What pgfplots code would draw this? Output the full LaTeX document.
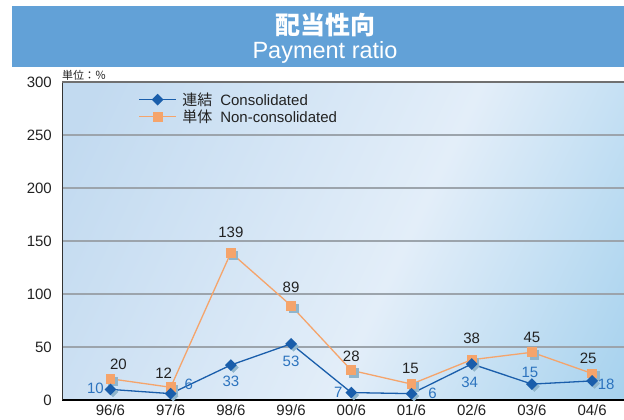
\documentclass[border=0pt]{standalone}
\usepackage{fontspec}
\setmainfont{Liberation Sans}
\newfontfamily\jp{Noto Sans CJK JP}
\usepackage{pgfplots}
\usepackage{pgfplotstable}
\pgfplotsset{compat=1.18}
\definecolor{hdr}{HTML}{62A1D7}
\definecolor{consc}{HTML}{1A5EAB}
\definecolor{consl}{HTML}{2C73BE}
\definecolor{nonc}{HTML}{F5A46B}
\definecolor{shadowc}{HTML}{8FB5CC}
\definecolor{bgL}{HTML}{C2DAF0}
\definecolor{bgM}{HTML}{E3EEF9}
\definecolor{bgR}{HTML}{A7D2EE}
\definecolor{gridc}{HTML}{9CA4AC}
\definecolor{topc}{HTML}{707070}
\definecolor{txt}{HTML}{222222}
\pgfdeclareverticalshading{plotbg}{100bp}{color(0bp)=(bgL); color(20bp)=(bgL); color(56bp)=(bgM); color(83bp)=(bgR); color(100bp)=(bgR)}

\pgfplotstableread{
x y dx dy
0 10 -15 1
1 6 18 9
2 33 0 -16
3 53 0 -18
4 7 -13 0
5 6 21 0
6 34 -2 -18
7 15 -2 12
8 18 14 -3
}\cons

\pgfplotstableread{
x y dx dy
0 20 8 14
1 12 -7 14
2 139 0 20
3 89 0 18
4 28 0 14
5 15 -1 16
6 38 0 21
7 45 0 15
8 25 -4 15
}\noncons

\begin{document}
\begin{tikzpicture}[x=1pt,y=1pt]
\useasboundingbox (0,0) rectangle (624,420);
\fill[hdr] (12,353.3) rectangle (624,414);
\node[white, inner sep=0, font=\jp\bfseries\fontsize{25}{28}\selectfont] at (325,395) {配当性向};
\node[white, anchor=base, inner sep=0, font=\fontsize{23.5}{26}\selectfont] at (325,361) {Payment ratio};
\node[anchor=west, inner sep=0, text=txt, font=\jp\fontsize{11}{13}\selectfont] at (62,344.5) {単位：％};

\begin{axis}[
  at={(62.5pt,20pt)}, anchor=south west, scale only axis,
  width=561.5pt, height=318pt,
  xmin=-0.797, xmax=8.53, ymin=0, ymax=300,
  axis x line=bottom, axis y line=left,
  axis line style={-},
  x axis line style={black, line width=1.3pt},
  y axis line style={black!80, line width=1pt},
  xtick={0,...,8},
  xticklabels={96/6,97/6,98/6,99/6,00/6,01/6,02/6,03/6,04/6},
  ytick={0,50,100,150,200,250,300},
  major tick length=0pt,
  ymajorgrids, grid style={gridc, line width=1.5pt},
  /pgf/number format/assume math mode=true,
  tick label style={text=txt, font=\fontsize{15}{17}\selectfont},
  xticklabel style={anchor=base, yshift=-16pt, inner sep=0pt},
  yticklabel style={anchor=east, xshift=-10.5pt, inner sep=0pt},
  axis background/.style={shade, shading=plotbg, shading angle=244.5},
  after end axis/.code={\draw[topc, line width=2pt] (rel axis cs:0,1) -- (rel axis cs:1,1);},
  legend style={at={(axis description cs:0.135,0.972)}, anchor=north west, draw=none, fill=none,
    font=\fontsize{15}{17}\selectfont, text=txt, row sep=0pt, inner sep=0pt,
    nodes={inner sep=1.5pt}},
  legend cell align=left,
  reverse legend,
  legend image code/.code={\draw[mark repeat=2,mark phase=2,#1] plot coordinates {(0pt,0pt) (18.5pt,0pt) (37pt,0pt)};},
  clip=false,
]
% shadows
\addplot[forget plot, only marks, mark=square*, mark size=4.3pt, shadowc, mark options={xshift=2.5pt, yshift=-2.5pt}] table[x=x,y=y] {\noncons};
\addplot[forget plot, only marks, mark=square*, mark size=3.5pt, shadowc, mark options={xshift=2.5pt, yshift=-2.5pt, rotate=45}] table[x=x,y=y] {\cons};
% non-consolidated
\addplot[nonc, line width=1.3pt, mark=square*, mark size=4.3pt, mark options={solid, fill=nonc, draw=nonc},
  nodes near coords,
  visualization depends on={\thisrow{dx} \as \ddx},
  visualization depends on={\thisrow{dy} \as \ddy},
  every node near coord/.append style={anchor=center, xshift=\ddx pt, yshift=\ddy pt, text=txt, font=\fontsize{15}{17}\selectfont, inner sep=0pt},
] table[x=x,y=y] {\noncons};
% consolidated
\addplot[consc, line width=1.3pt, mark=square*, mark size=3.5pt, mark options={solid, fill=consc, draw=consc, rotate=45},
  nodes near coords,
  visualization depends on={\thisrow{dx} \as \ddx},
  visualization depends on={\thisrow{dy} \as \ddy},
  every node near coord/.append style={anchor=center, rotate=0, xshift=\ddx pt, yshift=\ddy pt, text=consl, font=\fontsize{15}{17}\selectfont, inner sep=0pt},
] table[x=x,y=y] {\cons};
\legend{\hspace{4pt}{\jp 単体}\hspace{8pt}Non-consolidated, \hspace{4pt}{\jp 連結}\hspace{8pt}Consolidated}
\end{axis}
\end{tikzpicture}
\end{document}
